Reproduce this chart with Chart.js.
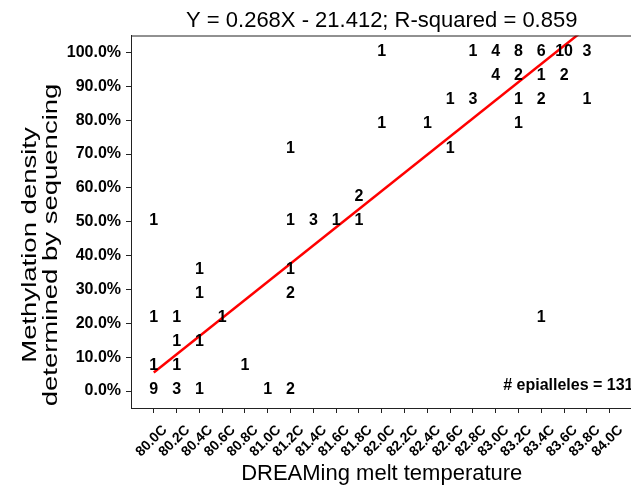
<!DOCTYPE html>
<html>
<head>
<meta charset="utf-8">
<script src="https://cdn.jsdelivr.net/npm/chart.js@4/dist/chart.umd.min.js"></script>
<style>
  html, body { margin: 0; padding: 0; background: #fff; overflow: hidden; }
</style>
</head>
<body>
<canvas id="meltChart" width="640" height="491"></canvas>
<script>
// melt temperature of each group of epialleles (deg C)
const meltTemps = [
  80.0, 80.0, 80.0, 80.0,
  80.2, 80.2, 80.2, 80.2,
  80.4, 80.4, 80.4, 80.4,
  80.6, 80.8, 81.0,
  81.2, 81.2, 81.2, 81.2, 81.2,
  81.4, 81.6, 81.8, 81.8,
  82.0, 82.0, 82.4, 82.6, 82.6, 82.8, 82.8,
  83.0, 83.0,
  83.2, 83.2, 83.2, 83.2,
  83.4, 83.4, 83.4, 83.4,
  83.6, 83.6, 83.8, 83.8
];
// methylation density (%) of each group
const methylation = [
  0, 7.1, 21.4, 50,
  0, 7.1, 14.3, 21.4,
  0, 14.3, 28.6, 35.7,
  21.4, 7.1, 0,
  0, 28.6, 35.7, 50, 71.4,
  50, 50, 50, 57.1,
  78.6, 100, 78.6, 71.4, 85.7, 85.7, 100,
  92.9, 100,
  78.6, 85.7, 92.9, 100,
  21.4, 85.7, 92.9, 100,
  92.9, 100, 85.7, 100
];
// number of epialleles at each position
const counts = [
  9, 1, 1, 1,
  3, 1, 1, 1,
  1, 1, 1, 1,
  1, 1, 1,
  2, 2, 1, 1, 1,
  3, 1, 1, 2,
  1, 1, 1, 1, 1, 3, 1,
  4, 4,
  1, 1, 2, 8,
  1, 2, 1, 6,
  2, 10, 1, 3
];

// regression line as drawn in the figure
const fitX = [80.0, 83.75];
const fitY = [5.5, 106];

const xTicks = [80.0, 80.2, 80.4, 80.6, 80.8, 81.0, 81.2, 81.4, 81.6, 81.8, 82.0,
  82.2, 82.4, 82.6, 82.8, 83.0, 83.2, 83.4, 83.6, 83.8, 84.0];
const yTicks = [0, 10, 20, 30, 40, 50, 60, 70, 80, 90, 100];

const titleText = "Y = 0.268X - 21.412; R-squared = 0.859";
const yTitle = ["Methylation density", "determined by sequencing"];
const xTitle = "DREAMing melt temperature";
const totalText = "# epialleles = 131";

const FONT = "'Liberation Sans', Arial, Helvetica, sans-serif";

// draws the count numbers at each point + frame + y title + total
const labelPlugin = {
  id: "countLabels",
  afterDatasetsDraw(chart) {
    const ctx = chart.ctx;
    const xs = chart.scales.x;
    const ys = chart.scales.y;
    const area = chart.chartArea;

    ctx.save();
    ctx.fillStyle = "#000";
    ctx.font = "bold 16px " + FONT;
    ctx.textAlign = "center";
    ctx.textBaseline = "middle";
    meltTemps.forEach((t, i) => {
      const px = xs.getPixelForValue(t);
      const py = ys.getPixelForValue(methylation[i]) - 1;
      ctx.fillText(String(counts[i]), px, py);
    });

    // total count, bottom right
    ctx.font = "bold 16px " + FONT;
    ctx.textAlign = "right";
    ctx.fillText(totalText, area.right + 1, ys.getPixelForValue(1.5));

    // top spine
    ctx.strokeStyle = "#222";
    ctx.lineWidth = 1;
    ctx.beginPath();
    ctx.moveTo(area.left, area.top + 0.5);
    ctx.lineTo(area.right, area.top + 0.5);
    ctx.moveTo(area.right - 0.5, area.top);
    ctx.lineTo(area.right - 0.5, area.bottom);
    ctx.stroke();

    // y title, two lines, rotated
    ctx.translate(0, 245);
    ctx.rotate(-Math.PI / 2);
    ctx.scale(1.31, 1);
    ctx.font = "21px " + FONT;
    ctx.textAlign = "center";
    ctx.textBaseline = "alphabetic";
    ctx.fillText(yTitle[0], 0, 36);
    ctx.fillText(yTitle[1], 0, 57);
    ctx.restore();
  },
};

const ctx = document.getElementById("meltChart").getContext("2d");

const meltChart = new Chart(ctx, {
  type: "scatter",
  data: {
    datasets: [
      {
        label: "epialleles",
        data: meltTemps.map((t, i) => ({ x: t, y: methylation[i] })),
        pointRadius: 0,
        pointHoverRadius: 0,
      },
      {
        type: "line",
        label: "fit",
        data: fitX.map((x, i) => ({ x: x, y: fitY[i] })),
        borderColor: "#ff0000",
        borderWidth: 2.5,
        pointRadius: 0,
        fill: false,
        tension: 0,
      },
    ],
  },
  options: {
    responsive: false,
    animation: false,
    devicePixelRatio: 1,
    layout: {
      padding: { top: 0, right: 7.5, bottom: 0, left: 0 },
    },
    plugins: {
      legend: { display: false },
      tooltip: { enabled: false },
      title: {
        display: true,
        text: titleText,
        fullSize: false,
        color: "#000",
        font: { family: FONT, size: 22, weight: "normal", lineHeight: 1.2 },
        padding: { top: 8, bottom: 1.1 },
      },
    },
    scales: {
      x: {
        type: "linear",
        min: 79.8,
        max: 84.2,
        afterBuildTicks: (scale) => {
          scale.ticks = xTicks.map((v) => ({ value: v }));
        },
        afterFit: (scale) => {
          scale.height = 83;
        },
        ticks: {
          autoSkip: false,
          minRotation: 45,
          maxRotation: 45,
          padding: 9,
          labelOffset: 11,
          color: "#000",
          font: { family: FONT, size: 14, weight: "bold" },
          callback: (v) => Number(v).toFixed(1) + "C",
        },
        grid: {
          drawOnChartArea: false,
          drawTicks: true,
          tickLength: 5,
          color: "#222",
        },
        border: { display: true, color: "#222", width: 1 },
        title: {
          display: true,
          text: xTitle,
          color: "#000",
          font: { family: FONT, size: 22, weight: "normal", lineHeight: 1.2 },
          padding: { top: 0, bottom: 3.8 },
        },
      },
      y: {
        type: "linear",
        min: -5,
        max: 105,
        afterBuildTicks: (scale) => {
          scale.ticks = yTicks.map((v) => ({ value: v }));
        },
        afterFit: (scale) => {
          scale.width = 131;
        },
        ticks: {
          padding: 5,
          color: "#000",
          font: { family: FONT, size: 16, weight: "bold" },
          callback: (v) => Number(v).toFixed(1) + "%",
        },
        grid: {
          drawOnChartArea: false,
          drawTicks: true,
          tickLength: 5,
          color: "#222",
        },
        border: { display: true, color: "#222", width: 1 },
      },
    },
  },
  plugins: [labelPlugin],
});
</script>
</body>
</html>
